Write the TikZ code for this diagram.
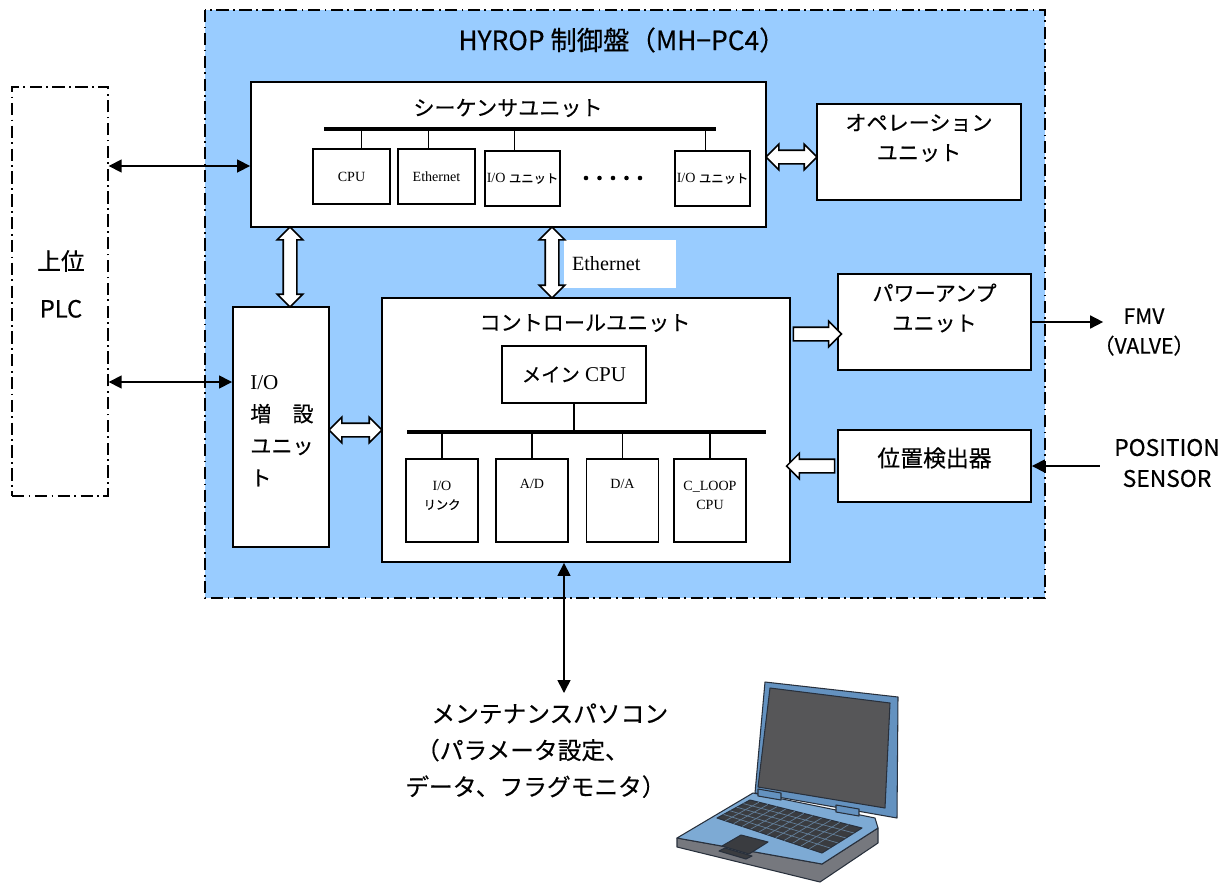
\documentclass[tikz,border=0pt]{standalone}
\usepackage{fontspec}
\setmainfont{Noto Sans CJK JP}[FakeBold=0.4]
\newfontfamily\gothic{Noto Sans CJK JP}[FakeBold=0.4]
\newfontfamily\mincho{Liberation Serif}
\usetikzlibrary{positioning,arrows.meta,calc,shapes.arrows}

\definecolor{panelblue}{RGB}{153,204,255}
\definecolor{lidblue}{RGB}{100,146,192}
\definecolor{deckblue}{RGB}{125,170,212}
\definecolor{screengray}{RGB}{86,86,88}
\definecolor{keygray}{RGB}{58,60,64}
\definecolor{basegray}{RGB}{118,120,126}
\definecolor{pcline}{RGB}{40,48,60}

% kana set small next to the serif labels
\newcommand\kana[1]{{\gothic\fontsize{7}{9}\selectfont #1}}

\begin{document}
\begin{tikzpicture}[x=0.02cm, y=-0.02cm,
    unit/.style={draw, line width=1.1pt, fill=white, inner sep=0pt},
    sub/.style={draw, line width=0.9pt, fill=white, inner sep=0pt, align=center,
        font=\mincho\fontsize{8}{10.5}\selectfont},
    small/.style={inner sep=0pt, align=center, font=\mincho\fontsize{8}{10.5}\selectfont},
    ttl/.style={inner sep=0pt, align=center, font=\fontsize{12}{17}\selectfont},
    bus/.style={line width=2.3pt},
    tick/.style={line width=0.8pt},
    link/.style={{Triangle[length=2.6mm,width=2.6mm]}-{Triangle[length=2.6mm,width=2.6mm]}, line width=0.9pt},
    feed/.style={-{Triangle[length=2.6mm,width=2.6mm]}, line width=0.9pt},
    fatboth/.style={double arrow, draw, line width=0.9pt, fill=white, inner xsep=0pt, inner ysep=0.12cm,
        double arrow head extend=0.12cm, double arrow tip angle=90},
    fatone/.style={single arrow, draw, line width=0.9pt, fill=white, inner xsep=0pt, inner ysep=0.12cm,
        single arrow head extend=0.12cm, single arrow tip angle=90},
    dashdot/.style={dash pattern=on 7pt off 2.5pt on 1pt off 2.5pt}
]
\useasboundingbox (0,0) rectangle (1231,890);

% control panel frame
\draw[dashdot, line width=1pt, fill=panelblue] (205,10) rectangle (1045,598);
\node[inner sep=0pt, font=\fontsize{15}{18}\selectfont] (panelttl) at (622,40) {HYROP 制御盤（MH−PC4）};

% host PLC
\node[draw, dashdot, line width=0.8pt, minimum width=1.92cm, minimum height=8.18cm, inner sep=0pt] (plc) at (60,291.5) {};
\node[align=center, inner sep=0pt, font=\fontsize{13.5}{27}\selectfont] (plctxt) at (61,284) {上位\\PLC};

% sequencer unit
\node[unit, minimum width=10.3cm, minimum height=2.9cm] (seq) at (508.5,154.5) {};
\node[ttl] (seqttl) at (508,108) {シーケンサユニット};
\coordinate (seqbusL) at (324,129);
\coordinate (seqbusR) at (716,129);
\draw[bus] (seqbusL) -- (seqbusR);
\node[sub, minimum width=1.54cm, minimum height=1.1cm] (cpu) at (351.5,176.5) {CPU};
\node[sub, minimum width=1.54cm, minimum height=1.1cm] (eth) at (436.5,176.5) {Ethernet};
\node[sub, minimum width=1.5cm, minimum height=1.1cm] (io1) at (522.5,178.5) {I/O \kana{ユニット}};
\node[sub, minimum width=1.5cm, minimum height=1.1cm] (io2) at (712.5,178.5) {I/O \kana{ユニット}};
\draw[tick] ([xshift=0.2cm]cpu.north) -- ([xshift=0.2cm]cpu.north |- seqbusL);
\draw[tick] ([xshift=-0.16cm]eth.north) -- ([xshift=-0.16cm]eth.north |- seqbusL);
\draw[tick] ([xshift=-0.16cm]io1.north) -- ([xshift=-0.16cm]io1.north |- seqbusL);
\draw[tick] ([xshift=-0.14cm]io2.north) -- ([xshift=-0.14cm]io2.north |- seqbusL);
\foreach \i in {0,...,4}
  \fill (586+\i*13.5,178) circle (1.3pt);

% operation unit
\node[unit, minimum width=4.08cm, minimum height=1.92cm] (op) at (919,152) {};
\node[ttl] (opttl) at (919,138) {オペレーション\\ユニット};

% I/O expansion unit
\node[unit, minimum width=1.92cm, minimum height=4.8cm] (io) at (281,427) {};
\node[inner sep=0pt, align=left, anchor=west, font=\fontsize{12}{18.2}\selectfont] (iotxt) at (250,431)
  {{\mincho I/O}\\増　設\\ユニッ\\ト};

% control unit
\node[unit, minimum width=8.16cm, minimum height=5.28cm] (ctrl) at (586,430) {};
\node[ttl] (ctrlttl) at (585,323) {コントロールユニット};
\node[sub, minimum width=2.88cm, minimum height=1.14cm, font=\mincho\fontsize{12}{14}\selectfont] (mcpu) at (574,374.5)
  {{\gothic\fontsize{11}{14}\selectfont メイン} CPU};
\coordinate (ctlbusL) at (407,432);
\coordinate (ctlbusR) at (766,432);
\draw[bus] (ctlbusL) -- (ctlbusR);
\draw[tick] (mcpu.south) -- (mcpu.south |- ctlbusL);
\node[sub, minimum width=1.44cm, minimum height=1.66cm] (iol) at (442,500.5) {};
\node[sub, minimum width=1.44cm, minimum height=1.66cm] (ad) at (532,500.5) {};
\node[sub, minimum width=1.44cm, minimum height=1.66cm] (da) at (622.5,500.5) {};
\node[sub, minimum width=1.44cm, minimum height=1.66cm] (cloop) at (710,500.5) {};
\foreach \b in {iol,ad,da,cloop}
  \draw[tick] (\b.north) -- (\b.north |- ctlbusL);
\node[small, below=0.46cm of iol.north] (ioltxt) {I/O\\\kana{リンク}};
\node[small, below=0.42cm of ad.north] (adtxt) {A/D};
\node[small, below=0.42cm of da.north] (datxt) {D/A};
\node[small, below=0.46cm of cloop.north] (clooptxt) {C\_LOOP\\CPU};

% power amp and position detector
\node[unit, minimum width=3.86cm, minimum height=1.92cm] (amp) at (934.5,322) {};
\node[ttl] (ampttl) at (934.5,308) {パワーアンプ\\ユニット};
\node[unit, minimum width=3.86cm, minimum height=1.44cm] (pos) at (934.5,466) {};
\node[ttl, font=\fontsize{13}{17}\selectfont] (posttl) at (934.5,458) {位置検出器};

% field side
\node[inner sep=0pt, align=center, font=\fontsize{12}{17}\selectfont] (fmv) at (1144,332) {FMV\\（VALVE）};
\node[inner ysep=0pt, inner xsep=8pt, align=center, font=\fontsize{13}{17.6}\selectfont] (sensor) at (1167,463) {POSITION\\SENSOR};

% links
\node[fill=white, minimum width=2.24cm, minimum height=0.96cm, text width=1.92cm, inner xsep=0.16cm,
  align=left, font=\mincho\fontsize{11.5}{13}\selectfont] (ethlbl) at (620,264) {Ethernet};
\draw[link] (plc.east |- 0,166) -- (seq.west |- 0,166);
\draw[link] (plc.east |- 0,382) -- (io.west |- 0,382);
\draw[feed] (amp.east) -- ([xshift=0.2cm]fmv.west |- amp.east);
\draw[feed] (sensor.west |- pos.east) -- (pos.east);
\node[fatboth, minimum height=1.6cm, rotate=90] (seqio) at (290,267) {};
\node[fatboth, minimum height=1.42cm, rotate=90] (seqctl) at (552,262.5) {};
\node[fatboth, minimum height=1.02cm] (seqop) at (791.5,157) {};
\node[fatboth, minimum height=1.06cm] (ioctl) at (355.5,430) {};
\node[fatone, minimum height=0.96cm] (ctlamp) at (814,334) {};
\node[fatone, minimum height=0.96cm, rotate=180] (posctl) at (814,466) {};

% maintenance PC
\coordinate (pcend) at (564,693);
\draw[link] (pcend -| 564,0) -- (pcend |- ctrl.south);
\node[inner sep=0pt, align=left, anchor=north west, font=\fontsize{13.5}{20.8}\selectfont] (mnt) at (405,703)
  {\hspace{1.1em}メンテナンスパソコン\\\hspace{0.45em}（パラメータ設定、\\データ、フラグモニタ）};

% laptop
\begin{scope}[draw=pcline, line width=0.6pt, line join=round]
  \filldraw[fill=lidblue] (765,682) -- (898,697) -- (897,818) -- (755,793) -- cycle;
  \filldraw[fill=screengray] (770,688) -- (890,703) -- (885,808) -- (758,787) -- cycle;
  \filldraw[fill=basegray] (677,838) -- (822,864) -- (878,828) -- (878,843) -- (820,882) -- (677,847) -- cycle;
  \filldraw[fill=deckblue] (677,838) -- (753,793) -- (875,818) -- (878,828) -- (822,864) -- cycle;
  \filldraw[fill=lidblue] (758,789) -- (781,793) -- (781,800) -- (758,796) -- cycle;
  \filldraw[fill=lidblue] (836,805) -- (859,809) -- (859,816) -- (836,812) -- cycle;
  \coordinate (kb1) at (750,800);
  \coordinate (kb2) at (862,828);
  \coordinate (kb3) at (822,853);
  \coordinate (kb4) at (717,818);
  \filldraw[fill=keygray] (kb1) -- (kb2) -- (kb3) -- (kb4) -- cycle;
  \foreach \t in {0.2,0.4,0.6,0.8}
    \draw[deckblue!60!keygray, line width=0.4pt] ($(kb1)!\t!(kb4)$) -- ($(kb2)!\t!(kb3)$);
  \foreach \t in {0.08,0.16,...,0.93}
    \draw[deckblue!60!keygray, line width=0.4pt] ($(kb1)!\t!(kb2)$) -- ($(kb4)!\t!(kb3)$);
  \filldraw[fill=keygray] (722,846) -- (741,835) -- (768,842) -- (749,854) -- cycle;
  \filldraw[fill=keygray] (719,851) -- (746,859) -- (752,856) -- (725,848) -- cycle;
\end{scope}
\end{tikzpicture}
\end{document}
